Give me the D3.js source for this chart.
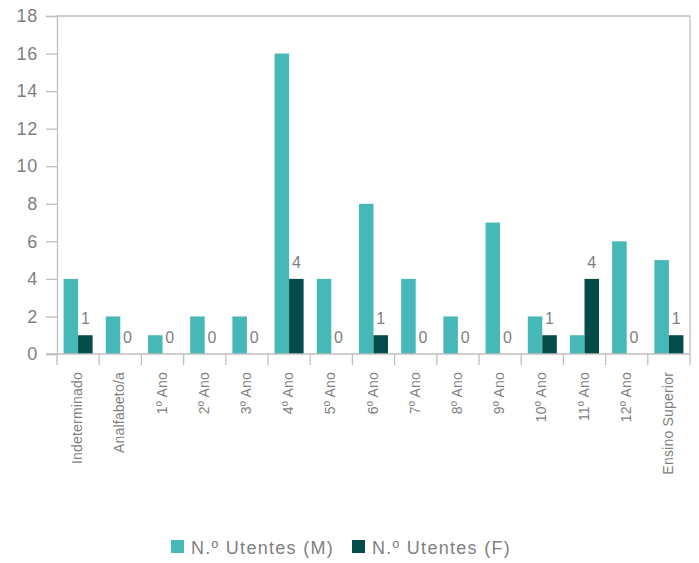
<!DOCTYPE html>
<html>
<head>
<meta charset="utf-8">
<script src="https://cdn.jsdelivr.net/npm/d3@7"></script>
<style>
  body { margin: 0; background: #fff; }
  svg { display: block; font-family: Arial, "Liberation Sans", Helvetica, sans-serif; }
</style>
</head>
<body>
<svg id="chart" width="699" height="563"></svg>
<script>
const categories = ["Indeterminado", "Analfabeto/a", "1º Ano", "2º Ano", "3º Ano", "4º Ano", "5º Ano", "6º Ano", "7º Ano", "8º Ano", "9º Ano", "10º Ano", "11º Ano", "12º Ano", "Ensino Superior"];
const seriesNames = ["N.º Utentes (M)", "N.º Utentes (F)"];
const valuesM = [4, 2, 1, 2, 2, 16, 4, 8, 4, 2, 7, 2, 1, 6, 5];
const valuesF = [1, 0, 0, 0, 0, 4, 0, 1, 0, 0, 0, 1, 4, 0, 1];
const yTicks = [0, 2, 4, 6, 8, 10, 12, 14, 16, 18];
const colors = ["#47b8b8", "#034c4a"];

(function () {
const svg = d3.select("#chart");
const pLeft = 57, pRight = 690, pTop = 16, pBottom = 354;
const frameColor = "#bfbfbf";
const textColor = "#7f7f7f";

const x = d3.scaleBand().domain(categories).range([pLeft, pRight]).paddingInner(0).paddingOuter(0);
const y = d3.scaleLinear().domain([0, 18]).range([pBottom, pTop]);
const bw = x.bandwidth();
const barW = bw * 0.344;
const groupOff = (bw - 2 * barW) / 2;

// frame top & right
svg.append("line").attr("x1", pLeft).attr("x2", pRight).attr("y1", pTop).attr("y2", pTop)
  .attr("stroke", frameColor).attr("stroke-width", 1.3);
svg.append("line").attr("x1", pRight).attr("x2", pRight).attr("y1", pTop).attr("y2", pBottom)
  .attr("stroke", frameColor).attr("stroke-width", 1.3);

// y axis
const yAxis = d3.axisLeft(y).tickValues(yTicks).tickSize(11).tickPadding(8);
const gy = svg.append("g").attr("transform", `translate(${pLeft},0)`).call(yAxis);
gy.attr("font-family", null);
gy.select(".domain").attr("stroke", frameColor).attr("stroke-width", 1.3);
gy.selectAll(".tick line").attr("stroke", frameColor).attr("stroke-width", 1.3);
gy.selectAll(".tick text").attr("fill", textColor).style("font-size", "18px").style("letter-spacing", "0.8px");

// bars
const data = categories.map((c, i) => ({ c, m: valuesM[i], f: valuesF[i] }));
svg.append("g").selectAll("rect").data(data).join("rect")
  .attr("x", d => x(d.c) + groupOff)
  .attr("width", barW)
  .attr("y", d => y(d.m))
  .attr("height", d => y(0) - y(d.m))
  .attr("fill", colors[0]);
svg.append("g").selectAll("rect").data(data).join("rect")
  .attr("x", d => x(d.c) + groupOff + barW)
  .attr("width", barW)
  .attr("y", d => y(d.f))
  .attr("height", d => y(0) - y(d.f))
  .attr("fill", colors[1]);

// F value labels
svg.append("g").selectAll("text").data(data).join("text")
  .attr("x", d => x(d.c) + groupOff + barW * 1.5)
  .attr("y", d => y(d.f) - 11)
  .attr("text-anchor", "middle")
  .attr("fill", textColor)
  .style("font-size", "16px")
  .text(d => d.f);

// x axis
const xTickPos = categories.map(c => x(c)).concat([pRight]);
const gx = svg.append("g");
gx.append("line").attr("x1", pLeft - 11).attr("x2", pRight).attr("y1", pBottom).attr("y2", pBottom)
  .attr("stroke", frameColor).attr("stroke-width", 1.3);
gx.selectAll("line.t").data(xTickPos).join("line").attr("class", "t")
  .attr("x1", d => d).attr("x2", d => d).attr("y1", pBottom).attr("y2", pBottom + 11)
  .attr("stroke", frameColor).attr("stroke-width", 1.3);
gx.selectAll("text").data(categories).join("text")
  .attr("transform", d => `translate(${x(d) + bw / 2 + 4},${372}) rotate(-90)`)
  .attr("text-anchor", "end")
  .attr("fill", textColor)
  .style("font-size", "14px")
  .style("letter-spacing", "0.2px")
  .text(d => d);

// legend
const legendX = [171, 352];
const lg = svg.append("g");
seriesNames.forEach((name, i) => {
  lg.append("rect").attr("x", legendX[i]).attr("y", 540).attr("width", 13).attr("height", 13).attr("fill", colors[i]);
  lg.append("text").attr("x", legendX[i] + 20).attr("y", 553.5)
    .attr("fill", textColor).style("font-size", "18px").style("letter-spacing", "1.3px")
    .text(name);
});
})();
</script>
</body>
</html>
